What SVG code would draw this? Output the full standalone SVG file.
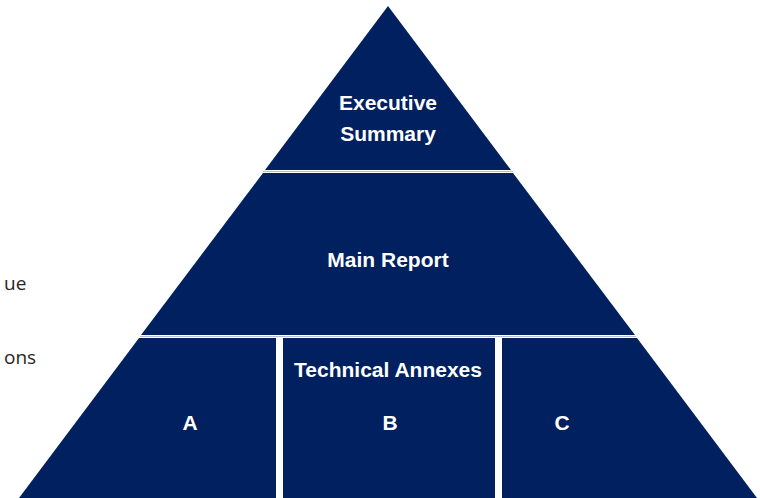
<svg xmlns="http://www.w3.org/2000/svg" width="760" height="498" viewBox="0 0 760 498">
<style>
.tier{fill:#002060}
.sep{stroke:#b4bdd0;stroke-width:1}
.bar{fill:#ffffff}
.lbl{font-family:"Liberation Sans",Arial,sans-serif;font-weight:bold;font-size:21px;fill:#ffffff;text-anchor:middle}
.side{font-family:"Open Sans","Liberation Sans",sans-serif;font-size:19px;fill:#262626}
</style>
<rect width="760" height="498" fill="#ffffff"/>
<text class="side" x="4" y="290">ue</text>
<text class="side" x="4" y="364">ons</text>
<g id="executive-summary">
<polygon class="tier" points="388,6 511,170 265,170"/>
<text class="lbl" x="388" y="110">Executive</text>
<text class="lbl" x="388" y="141">Summary</text>
</g>
<g id="main-report">
<polygon class="tier" points="263,173 513,173 635,335 141,335"/>
<text class="lbl" x="388" y="267">Main Report</text>
</g>
<g id="technical-annexes">
<polygon class="tier" points="139,338 637,338 757,498 19,498"/>
<rect class="bar" x="276" y="338" width="7" height="160"/>
<rect class="bar" x="495" y="338" width="7" height="160"/>
<text class="lbl" x="388" y="377">Technical Annexes</text>
</g>
<g id="annex-a"><text class="lbl" x="190" y="430">A</text></g>
<g id="annex-b"><text class="lbl" x="390" y="430">B</text></g>
<g id="annex-c"><text class="lbl" x="562" y="430">C</text></g>
<g id="connectors">
<line class="sep" x1="263" y1="171.5" x2="513" y2="171.5"/>
<line class="sep" x1="140" y1="336.5" x2="636" y2="336.5"/>
</g>
</svg>
